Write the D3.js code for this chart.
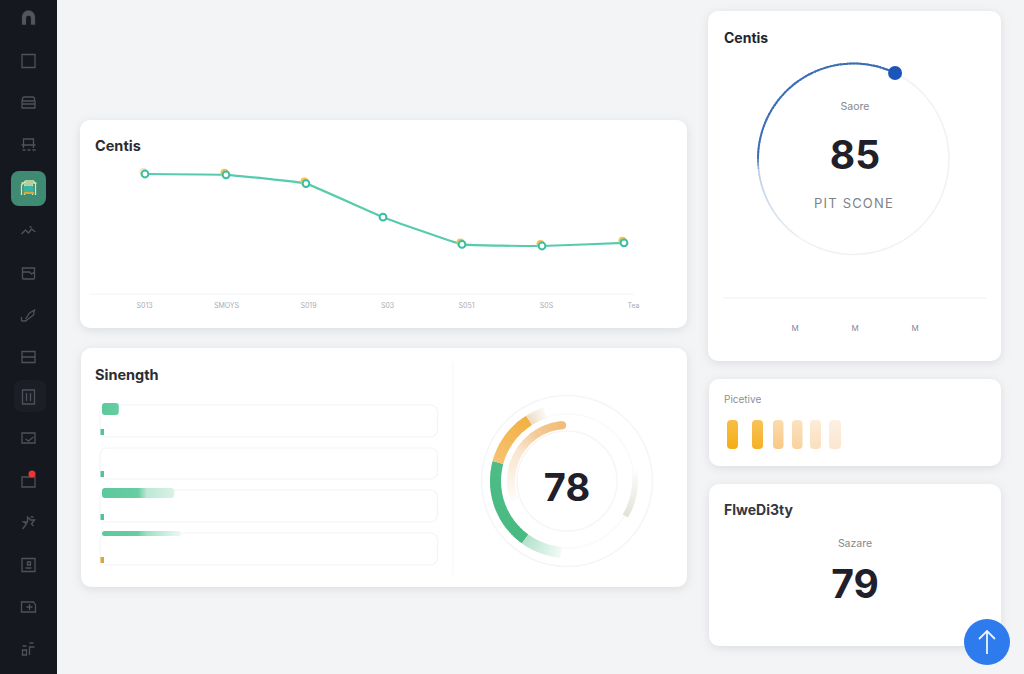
<!DOCTYPE html>
<html>
<head>
<meta charset="utf-8">
<script src="https://cdn.jsdelivr.net/npm/d3@7"></script>
<style>
  html, body { margin: 0; padding: 0; background: #f3f4f5; overflow: hidden; }
  svg { display: block; font-family: Inter, "Noto Sans", sans-serif; }
  .card { fill: #fff; filter: drop-shadow(0 2px 5px rgba(60, 70, 90, 0.13)); }
  .axis path, .axis line { display: none; }
</style>
</head>
<body>
<script>
const svg = d3.select("body").append("svg").attr("width", 1024).attr("height", 674);
const rad = d => d * Math.PI / 180;

// background + cards
svg.append("rect").attr("width", 1024).attr("height", 674).attr("fill", "#f3f4f5");

const cards = [
  { x: 80, y: 120, w: 607, h: 208 },
  { x: 81, y: 348, w: 606, h: 239 },
  { x: 708, y: 11, w: 293, h: 350 },
  { x: 709, y: 379, w: 292, h: 87 },
  { x: 709, y: 484, w: 292, h: 162 }
];
svg.selectAll("rect.card").data(cards).enter().append("rect")
  .attr("class", "card")
  .attr("x", d => d.x).attr("y", d => d.y)
  .attr("width", d => d.w).attr("height", d => d.h)
  .attr("rx", 10);

// sidebar
svg.append("rect").attr("width", 57).attr("height", 674).attr("fill", "#161820");
svg.append("rect").attr("x", 14).attr("y", 380).attr("width", 32).attr("height", 32).attr("rx", 8).attr("fill", "#1b1e27");
svg.append("rect").attr("x", 11).attr("y", 171).attr("width", 35).attr("height", 35).attr("rx", 8).attr("fill", "#3f8a73");

const icons = [
  { y: 18, d: "M-6 6V-1A6 6 0 0 1 6 -1V6H3V0A3 3 0 0 0 -3 0V6Z" },
  { y: 61, d: "M-6.5 -6.5H6.5V6.5H-6.5Z" },
  { y: 103, d: "M-6 -2V-4Q-6 -6 -4 -6H4Q6 -6 6 -4V-2M-6.5 -2H6.5V5H-6.5ZM-6 1H6" },
  { y: 145, d: "M-5 -6H5V0H-5ZM-7 0H7M-6 5H-3M-1 5H2M4 5H7M-5 0V3M5 0V3" },
  { y: 188, d: "M-7 7V-3L-3 -7H5L7 -4V7M-4 7V-3H4V7M-7 -5H8", c: "#d8e6b0" },
  { y: 231, d: "M-7 3L-3 -1L0 2L3 -2L7 1M1 -4H3" },
  { y: 273, d: "M-6 -5H6V5Q6 6 5 6H-5Q-6 6 -6 5ZM-6 -1H1L3 1L6 -1" },
  { y: 316, d: "M-7 5H-3L5 -1L6 -6L1 -3L-3 3M-7 1V5" },
  { y: 357, d: "M-6.5 -5.5H6.5V5.5H-6.5ZM-6.5 0H6.5" },
  { y: 397, d: "M-6 -7H6V7H-6ZM-2 -4V4M2 -4V4" },
  { y: 438, d: "M-6.5 -5H6.5V5H-6.5ZM-3 1L0 3L5 -1" },
  { y: 481, d: "M-6.5 -4H6.5V6H-6.5Z" },
  { y: 523, d: "M-6 6L-2 1L-5 -1H-1L-1 -6L2 -3H6L3 1L5 3M2 -6H5" },
  { y: 565, d: "M-6.5 -6.5H6.5V6.5H-6.5ZM-3 3H3M-1 -3H2V0H-1Z" },
  { y: 607, d: "M-7 -5H5L7 -2V5H-7ZM-2 0H4M1 -3V3" },
  { y: 649, d: "M-6 6V1H-2V6ZM1 6V-2H6M-6 -3H-2M1 -6H5" }
];
svg.selectAll("path.icon").data(icons).enter().append("path")
  .attr("class", "icon")
  .attr("d", d => d.d)
  .attr("transform", d => `translate(28.5,${d.y})`)
  .attr("fill", (d, i) => i == 0 ? "#55585e" : "none")
  .attr("stroke", d => d.c || "#4f5259")
  .attr("stroke-width", 1.3);
svg.append("rect").attr("x", 24).attr("y", 186).attr("width", 9).attr("height", 6).attr("fill", "#3db4a0");
svg.append("rect").attr("x", 24).attr("y", 192).attr("width", 10).attr("height", 2).attr("fill", "#d9a83f");
svg.append("circle").attr("cx", 32).attr("cy", 474).attr("r", 3.5).attr("fill", "#ee3535");

// titles and small texts
const labels = [
  { x: 95, y: 151, t: "Centis", s: 14.5, w: 700, c: "#2b2d33" },
  { x: 95, y: 380, t: "Sinength", s: 14.5, w: 700, c: "#2b2d33" },
  { x: 724, y: 43, t: "Centis", s: 14, w: 700, c: "#23252c" },
  { x: 724, y: 515, t: "FlweDi3ty", s: 14, w: 700, c: "#35373c" },
  { x: 724, y: 403, t: "Picetive", s: 10, w: 400, c: "#8d9096" },
  { x: 855, y: 110, t: "Saore", s: 10.5, w: 400, c: "#85888e", a: "middle" },
  { x: 854, y: 208, t: "PIT SCONE", s: 13, w: 400, c: "#7f8288", a: "middle", ls: 1.2 },
  { x: 855, y: 547, t: "Sazare", s: 10.5, w: 400, c: "#85888e", a: "middle" },
  { x: 855, y: 169, t: "85", s: 39, w: 700, c: "#1f2029", a: "middle" },
  { x: 567, y: 501, t: "78", s: 38, w: 700, c: "#1f2029", a: "middle" },
  { x: 855, y: 598, t: "79", s: 39, w: 700, c: "#1f2029", a: "middle" }
];
svg.selectAll("text.lbl").data(labels).enter().append("text")
  .attr("class", "lbl")
  .attr("x", d => d.x).attr("y", d => d.y)
  .attr("font-size", d => d.s).attr("font-weight", d => d.w)
  .attr("fill", d => d.c)
  .attr("text-anchor", d => d.a || "start")
  .attr("letter-spacing", d => d.ls || 0)
  .text(d => d.t);

// line chart
const lineData = [
  { k: 0, v: 75 }, { k: 81, v: 74.5 }, { k: 161, v: 69 }, { k: 238, v: 48 },
  { k: 317, v: 31 }, { k: 397, v: 30 }, { k: 479, v: 32 }
];
const x = d3.scaleLinear().domain([0, 479]).range([145, 624]);
const y = d3.scaleLinear().domain([0, 100]).range([294, 134]);

svg.append("line").attr("x1", 90).attr("x2", 634).attr("y1", y(0)).attr("y2", y(0)).attr("stroke", "#f1f3f5");

const tickX = d3.scaleOrdinal()
  .domain(["S013", "SMOYS", "S019", "S03", "S051", "S0S", "Tea"])
  .range([144, 226, 308, 387, 466, 546, 633]);
svg.append("g").attr("class", "axis")
  .attr("transform", `translate(0,${y(0)})`)
  .call(d3.axisBottom(tickX).tickSize(0).tickPadding(9))
  .call(g => g.selectAll("text").attr("fill", "#a9adb3").attr("font-size", 7).attr("font-family", "Inter"));

svg.append("path").datum(lineData)
  .attr("d", d3.line().x(d => x(d.k)).y(d => y(d.v)).curve(d3.curveCardinal.tension(0.75)))
  .attr("fill", "none").attr("stroke", "#57cbab").attr("stroke-width", 2.2);
svg.selectAll("circle.halo").data(lineData).enter().append("circle")
  .attr("class", "halo")
  .attr("cx", d => x(d.k) - 1.5).attr("cy", d => y(d.v) - 2).attr("r", 4)
  .attr("fill", (d, i) => i == 3 ? "none" : i == 0 ? "#f7dfc0" : "#f5c04f");
svg.selectAll("circle.pt").data(lineData).enter().append("circle")
  .attr("class", "pt")
  .attr("cx", d => x(d.k)).attr("cy", d => y(d.v)).attr("r", 3.4)
  .attr("fill", "#fff").attr("stroke", "#38bfa3").attr("stroke-width", 2);

// strength bars
const barX = d3.scaleLinear().domain([0, 100]).range([102, 438]);
const bars = [
  { top: 405, h: 32, v: 5, fy: 403, fh: 12, solid: 1, mark: "#4fc39a" },
  { top: 448, h: 31, v: 0, fy: 446, fh: 0, solid: 1, mark: "#4fc39a" },
  { top: 490, h: 32, v: 21.5, fy: 488, fh: 10, solid: 0.5, mark: "#4fc39a" },
  { top: 533, h: 32, v: 23.5, fy: 531, fh: 5, solid: 0.45, mark: "#dca63e" }
];
const defs = svg.append("defs");
bars.forEach((b, i) => {
  const g = defs.append("linearGradient").attr("id", "bar" + i);
  g.append("stop").attr("offset", 0).attr("stop-color", "#5bc99c");
  g.append("stop").attr("offset", b.solid).attr("stop-color", "#68cda3");
  g.append("stop").attr("offset", Math.min(b.solid + 0.12, 1)).attr("stop-color", i == 3 ? "#a0e0c4" : "#bde9d5");
  g.append("stop").attr("offset", 1).attr("stop-color", i == 3 ? "#eef9f4" : "#d9f2e6");
});
svg.selectAll("rect.track").data(bars).enter().append("rect")
  .attr("class", "track")
  .attr("x", 100).attr("y", d => d.top)
  .attr("width", 337.5).attr("height", d => d.h)
  .attr("rx", 7).attr("fill", "#fff").attr("stroke", "#f3f4f8").attr("stroke-width", 1.2);
svg.selectAll("rect.fillbar").data(bars).enter().append("rect")
  .attr("class", "fillbar")
  .attr("x", barX(0)).attr("y", d => d.fy)
  .attr("width", d => barX(d.v) - barX(0)).attr("height", d => d.fh)
  .attr("rx", d => Math.min(3, d.fh / 2))
  .attr("fill", (d, i) => `url(#bar${i})`);
svg.selectAll("rect.mark").data(bars).enter().append("rect")
  .attr("class", "mark")
  .attr("x", 100.5).attr("y", d => d.top + d.h - 8)
  .attr("width", 3.5).attr("height", 6)
  .attr("fill", d => d.mark);

svg.append("line").attr("x1", 453).attr("x2", 453).attr("y1", 362).attr("y2", 575).attr("stroke", "#f5f6f7");

// arcs get split in small steps so the colour can fade along them
const arc = d3.arc();
function fadeArc(g, d) {
  const n = Math.max(2, Math.round(Math.abs(d.to - d.from) / 2));
  const col = d3.interpolateRgb(d.c0, d.c1);
  const steps = d3.range(n).map(i => {
    const a = d.from + (d.to - d.from) * i / n;
    const b = d.from + (d.to - d.from) * (i + 1.3 > n ? 1 : (i + 1.3) / n);
    return { a, b, c: col(i / (n - 1)) };
  });
  g.selectAll(null).data(steps).enter().append("path")
    .attr("d", s => arc({
      innerRadius: d.r0, outerRadius: d.r1,
      startAngle: rad(Math.min(s.a, s.b)), endAngle: rad(Math.max(s.a, s.b))
    }))
    .attr("fill", s => s.c);
}

// ring gauge 78
const ring = svg.append("g").attr("transform", "translate(567,481)");
ring.selectAll("circle").data([{ r: 85.5, c: "#f4f5f6" }, { r: 67, c: "#fafafb" }, { r: 50, c: "#f6f6f7" }])
  .enter().append("circle")
  .attr("r", d => d.r).attr("fill", "none").attr("stroke", d => d.c).attr("stroke-width", 1.5);
const ringArcs = [
  { r0: 52, r1: 60, from: 250, to: 300, c0: "#fefbf8", c1: "#f9e6d0" },
  { r0: 52, r1: 60, from: 300, to: 330, c0: "#f9e6d0", c1: "#f3c890" },
  { r0: 52, r1: 60, from: 330, to: 355, c0: "#f3c890", c1: "#f2bd78" },
  { r0: 65, r1: 71, from: 82, to: 121, c0: "#fbfbf9", c1: "#e2e4d8" },
  { r0: 66, r1: 77, from: 185, to: 216, c0: "#f0faf5", c1: "#b4e2cc" },
  { r0: 66, r1: 77, from: 216, to: 285, c0: "#48ba82", c1: "#4dbc85" },
  { r0: 66, r1: 77, from: 285, to: 328, c0: "#f6c272", c1: "#f4b042" },
  { r0: 66, r1: 77, from: 328, to: 342, c0: "#f0dfc8", c1: "#f9f7f3" }
];
ringArcs.forEach(d => fadeArc(ring, d));
const cap = arc.centroid({ innerRadius: 52, outerRadius: 60, startAngle: rad(355), endAngle: rad(355) });
ring.append("circle").attr("cx", cap[0]).attr("cy", cap[1]).attr("r", 4).attr("fill", "#f2bd78");

// score gauge 85
const gauge = svg.append("g").attr("transform", "translate(853.5,159)");
gauge.append("circle").attr("r", 95.5).attr("fill", "none").attr("stroke", "#f0f1f3").attr("stroke-width", 1.5);
const gaugeArcs = [
  { r0: 94.7, r1: 96.3, from: 215, to: 262, c0: "#eff1f3", c1: "#bcd0e3" },
  { r0: 94.7, r1: 96.3, from: 262, to: 270, c0: "#bcd0e3", c1: "#4a78b8" },
  { r0: 94.5, r1: 96.5, from: 270, to: 386, c0: "#3f70b5", c1: "#3a6cb4" }
];
gaugeArcs.forEach(d => fadeArc(gauge, d));
const knob = arc.centroid({ innerRadius: 95.5, outerRadius: 95.5, startAngle: rad(25.8), endAngle: rad(25.8) });
gauge.append("circle").attr("cx", knob[0]).attr("cy", knob[1]).attr("r", 7).attr("fill", "#1c55b8");

// card 3 axis
svg.append("line").attr("x1", 723).attr("x2", 986).attr("y1", 298).attr("y2", 298).attr("stroke", "#eeeff1");
const mX = d3.scalePoint().domain(["M1", "M2", "M3"]).range([795, 915]);
svg.selectAll("text.m").data(mX.domain()).enter().append("text")
  .attr("class", "m")
  .attr("x", d => mX(d)).attr("y", 331)
  .attr("text-anchor", "middle").attr("font-size", 8).attr("fill", "#84878d")
  .text("M");

// picetive pills
const pills = [
  { o: 0, w: 11, top: "#f8be45", bot: "#f5ad14" },
  { o: 25, w: 11, top: "#f8c35a", bot: "#f5b027" },
  { o: 46, w: 10.5, top: "#fbdcae", bot: "#f9c885" },
  { o: 65, w: 10.5, top: "#fbe2c0", bot: "#f9d29f" },
  { o: 83, w: 11, top: "#fcecd8", bot: "#fadfbd" },
  { o: 102, w: 12, top: "#fcf0e2", bot: "#fbe6d0" }
];
const pillX = d3.scaleLinear().domain([0, 102]).range([727, 829]);
pills.forEach((p, i) => {
  const g = defs.append("linearGradient").attr("id", "pill" + i).attr("x1", 0).attr("x2", 0).attr("y1", 0).attr("y2", 1);
  g.append("stop").attr("offset", 0).attr("stop-color", p.top);
  g.append("stop").attr("offset", 1).attr("stop-color", p.bot);
});
svg.selectAll("rect.pill").data(pills).enter().append("rect")
  .attr("class", "pill")
  .attr("x", d => pillX(d.o)).attr("y", 420)
  .attr("width", d => d.w).attr("height", 29)
  .attr("rx", 4)
  .attr("fill", (d, i) => `url(#pill${i})`);

// floating button
svg.append("circle").attr("cx", 987).attr("cy", 642).attr("r", 23).attr("fill", "#2e7bee");
svg.append("path").attr("d", "M987 654V631M979 639L987 631L995 639")
  .attr("fill", "none").attr("stroke", "#eaf3ff").attr("stroke-width", 1.8);
</script>
</body>
</html>
